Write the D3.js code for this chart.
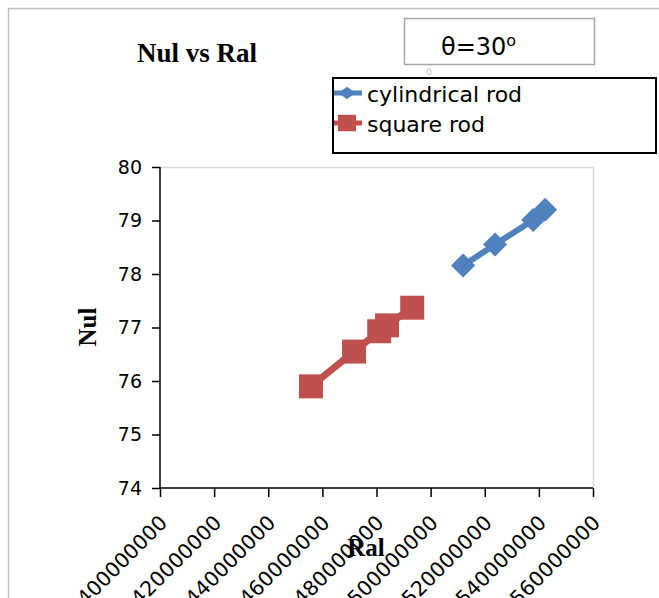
<!DOCTYPE html>
<html><head><meta charset="utf-8">
<script src="https://cdn.jsdelivr.net/npm/d3@7"></script>
<style>body{margin:0;background:#fff;} svg{display:block;}</style>
</head><body>
<div id="chart"></div>
<script>
const seriesNames = ["cylindrical rod", "square rod"];
const cylRa = [512.0e6, 523.8e6, 537.9e6, 542.3e6];
const cylNu = [78.16, 78.55, 79.01, 79.20];
const sqRa  = [455.8e6, 471.7e6, 481.0e6, 483.9e6, 493.2e6];
const sqNu  = [75.90, 76.55, 76.93, 77.04, 77.37];
const xTicks = [400000000, 420000000, 440000000, 460000000, 480000000, 500000000, 520000000, 540000000, 560000000];
const yTicks = [74, 75, 76, 77, 78, 79, 80];
const titleText = "Nul vs Ral";
const xTitle = "Ral";
const yTitle = "Nul";

const W = 659, H = 598;
const svg = d3.select("#chart").append("svg").attr("width", W).attr("height", H);
svg.append("rect").attr("width", W).attr("height", H).attr("fill", "#fff");

// outer chart border (left & top visible)
svg.append("line").attr("x1", 8.5).attr("x2", 8.5).attr("y1", 8).attr("y2", H).attr("stroke", "#bfbfbf").attr("stroke-width", 1.5);
svg.append("line").attr("x1", 8).attr("x2", W).attr("y1", 8.5).attr("y2", 8.5).attr("stroke", "#bfbfbf").attr("stroke-width", 1.5);

const x = d3.scaleLinear().domain([400e6, 560e6]).range([160, 593]);
const y = d3.scaleLinear().domain([74, 80]).range([488, 167]);

// plot area border (top & right)
svg.append("path").attr("d", `M${x(400e6)},${y(80)+0.5}H${x(560e6)+0.5}V${y(74)}`)
  .attr("fill", "none").attr("stroke", "#d9d9d9").attr("stroke-width", 1.5);

// axes
const yAxis = svg.append("g").attr("transform", `translate(${x(400e6)},0)`)
  .call(d3.axisLeft(y).tickValues(yTicks).tickSize(8).tickPadding(10).tickFormat(d3.format("d")));
yAxis.select(".domain").attr("stroke", "#000").attr("stroke-width", 1.5).attr("d", `M0,${y(80)}V${y(74)}`);
yAxis.selectAll(".tick line").attr("stroke", "#000").attr("stroke-width", 1.5);
yAxis.selectAll("text").attr("font-family", "DejaVu Sans").attr("font-size", 19).attr("fill", "#000");

const xAxis = svg.append("g").attr("transform", `translate(0,${y(74)})`)
  .call(d3.axisBottom(x).tickValues(xTicks).tickSize(9).tickFormat(d3.format("d")));
xAxis.select(".domain").attr("stroke", "#000").attr("stroke-width", 1.5).attr("d", `M${x(400e6)},0H${x(560e6)}`);
xAxis.selectAll(".tick line").attr("stroke", "#000").attr("stroke-width", 1.5);
xAxis.selectAll("text")
  .attr("font-family", "DejaVu Sans").attr("font-size", 20.5).attr("fill", "#000")
  .attr("text-anchor", "end").attr("dy", null).attr("y", 0)
  .attr("transform", "translate(8,36) rotate(-45)");

// lines and markers
const blue = "#4F81BD", red = "#C0504D";
const cyl = cylRa.map((r, i) => ({r, n: cylNu[i]}));
const sq = sqRa.map((r, i) => ({r, n: sqNu[i]}));
const line = d3.line().x(d => x(d.r)).y(d => y(d.n));

svg.append("path").datum(sq).attr("d", line).attr("fill", "none").attr("stroke", red).attr("stroke-width", 7);
svg.append("path").datum(cyl).attr("d", line).attr("fill", "none").attr("stroke", blue).attr("stroke-width", 6);

const sqSym = d3.symbol().type(d3.symbolSquare).size(576);
svg.append("g").selectAll("path").data(sq).join("path")
  .attr("d", sqSym).attr("fill", red)
  .attr("transform", d => `translate(${x(d.r)},${y(d.n)})`);
const diaSym = d3.symbol().type(d3.symbolSquare).size(290);
svg.append("g").selectAll("path").data(cyl).join("path")
  .attr("d", diaSym).attr("fill", blue)
  .attr("transform", d => `translate(${x(d.r)},${y(d.n)}) rotate(45)`);

// title
svg.append("text").attr("x", 197).attr("y", 62).attr("text-anchor", "middle")
  .attr("font-family", "Liberation Serif").attr("font-weight", "bold").attr("font-size", 27)
  .text(titleText);

// axis titles
svg.append("text").attr("x", 366).attr("y", 556).attr("text-anchor", "middle")
  .attr("font-family", "Liberation Serif").attr("font-weight", "bold").attr("font-size", 25)
  .text(xTitle);
svg.append("text").attr("transform", "translate(96,327) rotate(-90)").attr("text-anchor", "middle")
  .attr("font-family", "Liberation Serif").attr("font-weight", "bold").attr("font-size", 25)
  .text(yTitle);

// theta box
svg.append("rect").attr("x", 404.5).attr("y", 18.5).attr("width", 190).attr("height", 46)
  .attr("fill", "#fff").attr("stroke", "#a6a6a6").attr("stroke-width", 1.5);
const th = svg.append("text").attr("x", 441).attr("y", 55)
  .attr("font-family", "DejaVu Sans").attr("font-size", 24).attr("fill", "#000");
th.append("tspan").text("θ=30");
th.append("tspan").attr("dy", -9).attr("font-size", 16).text("o");
svg.append("text").attr("x", 429).attr("y", 75).attr("text-anchor", "middle")
  .attr("font-family", "DejaVu Sans").attr("font-size", 9).attr("fill", "#c0c0c0").text("0");

// legend
svg.append("rect").attr("x", 333).attr("y", 78).attr("width", 323).attr("height", 75)
  .attr("fill", "#fff").attr("stroke", "#000").attr("stroke-width", 2);
const leg = [
  {name: seriesNames[0], color: blue, ly: 93, ty: 102, type: "dia"},
  {name: seriesNames[1], color: red, ly: 123, ty: 132, type: "sq"}
];
leg.forEach(l => {
  svg.append("line").attr("x1", 334).attr("x2", 362).attr("y1", l.ly).attr("y2", l.ly)
    .attr("stroke", l.color).attr("stroke-width", 5);
  if (l.type === "dia") {
    svg.append("path").attr("d", d3.symbol().type(d3.symbolSquare).size(110)())
      .attr("fill", l.color).attr("transform", `translate(347,${l.ly}) scale(1.15,0.85) rotate(45)`);
  } else {
    svg.append("path").attr("d", d3.symbol().type(d3.symbolSquare).size(300)())
      .attr("fill", l.color).attr("transform", `translate(347,${l.ly}) scale(1.05,0.95)`);
  }
  svg.append("text").attr("x", 367).attr("y", l.ty)
    .attr("font-family", "DejaVu Sans").attr("font-size", 22).attr("fill", "#000").text(l.name);
});
</script>
</body></html>
